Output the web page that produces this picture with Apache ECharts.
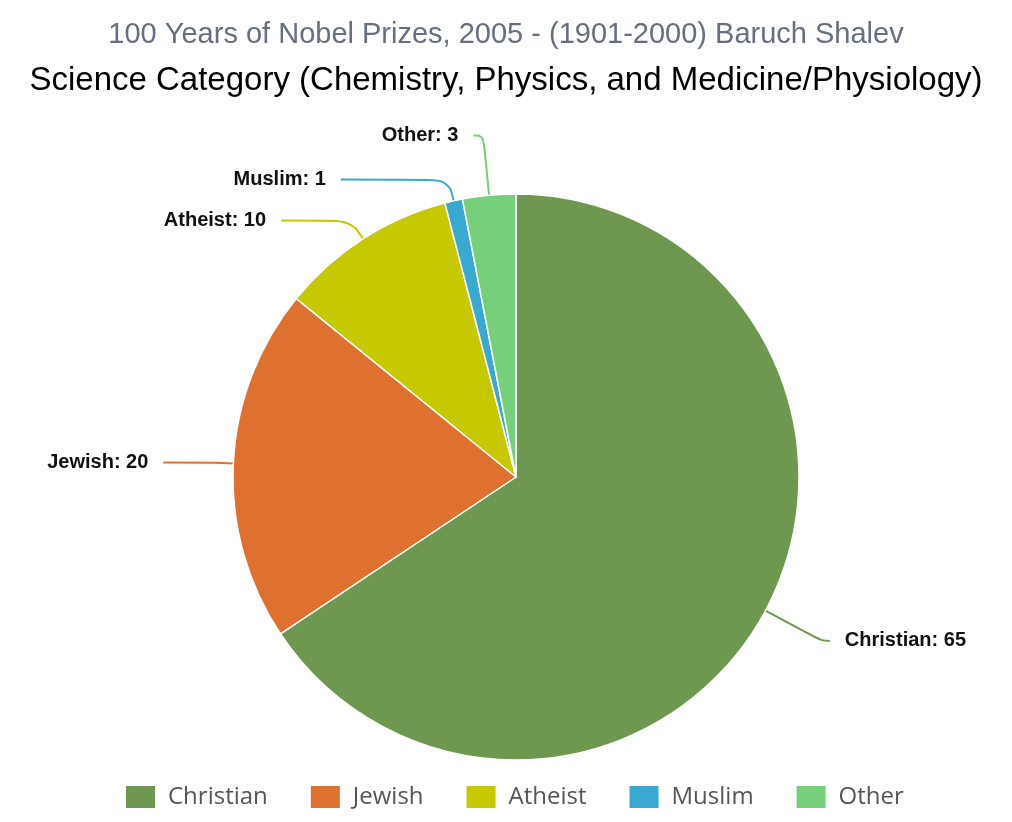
<!DOCTYPE html>
<html>
    <head>
        <meta charset="utf-8">
        <script src="https://cdn.jsdelivr.net/npm/echarts@6/dist/echarts.min.js"></script>
        <style>
            html, body { margin: 0; padding: 0; background: #fff; }
            #main { width: 1012px; height: 822px; }
        </style>
    </head>
    <body>
        <div id="main"></div>
        <script>
            var categories = ['Christian', 'Jewish', 'Atheist', 'Muslim', 'Other'];
            var values = [65, 20, 10, 1, 3];
            var colors = ['#6e9850', '#de7030', '#c6c800', '#3aa9d2', '#76cf7a'];
            // label line lengths [length, length2] per slice, to place labels like the original
            var lineLengths = [[64, 8], [20, 50], [22, 70], [22, 108], [60, 10]];

            var chart = echarts.init(document.getElementById('main'));

            var data = categories.map(function (name, i) {
                return {
                    name: name,
                    value: values[i],
                    itemStyle: {color: colors[i]},
                    labelLine: {
                        length: lineLengths[i][0],
                        length2: lineLengths[i][1],
                        lineStyle: {color: colors[i]}
                    }
                };
            });

            chart.setOption({
                animation: false,
                title: [{
                    text: '100 Years of Nobel Prizes, 2005 - (1901-2000) Baruch Shalev',
                    left: 'center',
                    top: 15,
                    textStyle: {
                        fontFamily: 'Liberation Sans',
                        fontSize: 29,
                        fontWeight: 'normal',
                        color: '#666f80'
                    }
                }, {
                    text: 'Science Category (Chemistry, Physics, and Medicine/Physiology)',
                    left: 'center',
                    top: 59,
                    textStyle: {
                        fontFamily: 'Liberation Sans',
                        fontSize: 33,
                        fontWeight: 'normal',
                        color: '#000'
                    }
                }],
                legend: {
                    top: 779,
                    left: 119,
                    itemWidth: 31,
                    itemHeight: 24,
                    itemGap: 41,
                    icon: 'rect',
                    textStyle: {
                        fontFamily: 'Open Sans',
                        fontSize: 24,
                        color: '#555',
                        padding: [0, 0, 0, 7]
                    },
                    data: categories
                },
                series: [{
                    type: 'pie',
                    center: [516, 477],
                    radius: 283,
                    startAngle: 90,
                    clockwise: true,
                    avoidLabelOverlap: false,
                    itemStyle: {
                        borderColor: '#fff',
                        borderWidth: 1.5
                    },
                    label: {
                        show: true,
                        formatter: '{b}: {c}',
                        fontFamily: 'Liberation Sans',
                        fontWeight: 'bold',
                        fontSize: 20,
                        color: '#111',
                        distanceToLabelLine: 15
                    },
                    labelLine: {
                        show: true,
                        smooth: 0.4,
                        lineStyle: {width: 2}
                    },
                    data: data
                }]
            });
        </script>
    </body>
</html>
